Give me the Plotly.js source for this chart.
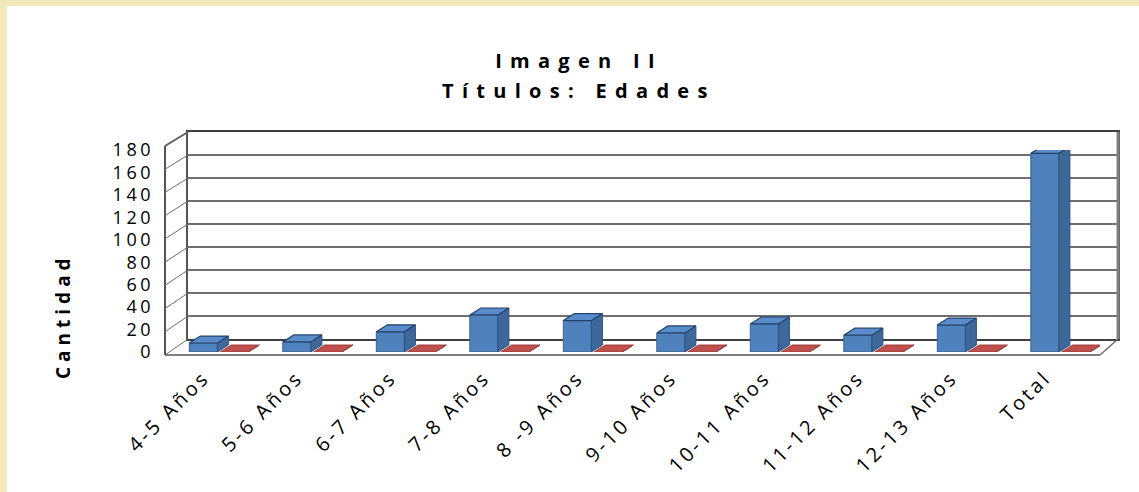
<!DOCTYPE html>
<html><head><meta charset="utf-8">
<script src="https://cdn.plot.ly/plotly-3.0.1.min.js"></script>
<style>
html,body{margin:0;padding:0;background:#fff;}
#chart{width:1139px;height:492px;}
.gtitle {letter-spacing:8.3px;}
.x3tick text{letter-spacing:3px;}
.y2tick text{letter-spacing:3.5px;}
</style></head><body><div id="chart"></div><script>
// ---- data ----
const categories = ['4-5 Años','5-6 Años','6-7 Años','7-8 Años','8 -9 Años','9-10 Años','10-11 Años','11-12 Años','12-13 Años','Total'];
const blueValues = [8, 9, 18, 33, 28, 17, 25, 15, 24, 177];
const redValues  = [0, 0, 0, 0, 0, 0, 0, 0, 0, 0];
const yTicks = [0, 20, 40, 60, 80, 100, 120, 140, 160, 180];
const titleLine1 = 'Imagen II';
const titleLine2 = 'Títulos: Edades';
const yTitle = 'Cantidad';

// ---- geometry / style ----
const W = 1139, H = 492;
const PX = x => x / W, PY = y => 1 - y / H;
const idx = categories.map((c, i) => i);
const BW = 0.3, BLUE_OFF = -0.24, RED_OFF = 0.09;
const DX = 0.118, DY = 6.2;

function faces(vals, off) {
  const sx = [], sy = [], tx = [], ty = [];
  vals.forEach((v, i) => {
    const x0 = i + off, x1 = x0 + BW;
    sx.push(x1, x1 + DX, x1 + DX, x1, x1, null); sy.push(0, DY, v + DY, v, 0, null);
    tx.push(x0, x0 + DX, x1 + DX, x1, x0, null); ty.push(v, v + DY, v + DY, v, v, null);
  });
  return {sx, sy, tx, ty};
}
const bf = faces(blueValues, BLUE_OFF);
const rf = faces(redValues, RED_OFF);

const common = {xaxis: 'x2', yaxis: 'y2', showlegend: false, hoverinfo: 'skip'};
const traces = [
  // back wall subplot (gridlines only)
  {type: 'scatter', mode: 'lines', x: [], y: [], xaxis: 'x', yaxis: 'y', showlegend: false, hoverinfo: 'skip'},
  // category label axis
  {type: 'scatter', mode: 'lines', x: [], y: [], xaxis: 'x3', yaxis: 'y2', showlegend: false, hoverinfo: 'skip'},
  Object.assign({type: 'bar', x: idx, y: blueValues, width: BW, offset: BLUE_OFF,
    marker: {color: '#4F81BD', line: {color: '#3A6290', width: 1}}}, common),
  Object.assign({type: 'scatter', mode: 'lines', x: bf.sx, y: bf.sy, fill: 'toself',
    fillcolor: '#3D6899', line: {color: '#2E5080', width: 1}}, common),
  Object.assign({type: 'scatter', mode: 'lines', x: bf.tx, y: bf.ty, fill: 'toself',
    fillcolor: '#5A8CCB', line: {color: '#24436B', width: 1.2}}, common),
  Object.assign({type: 'bar', x: idx, y: redValues, width: BW, offset: RED_OFF,
    marker: {color: '#C0504D', line: {width: 0}}}, common),
  Object.assign({type: 'scatter', mode: 'lines', x: rf.sx, y: rf.sy, fill: 'toself',
    fillcolor: '#8E3B39', line: {color: '#8E3B39', width: 1}}, common),
  Object.assign({type: 'scatter', mode: 'lines', x: rf.tx, y: rf.ty, fill: 'toself',
    fillcolor: '#C0504D', line: {color: '#9A3E3B', width: 1}}, common)
];

// wall / floor outline shapes
const shapes = [
  {type: 'rect', xref: 'paper', yref: 'paper', x0: 0, x1: PX(7), y0: 0, y1: 1, fillcolor: '#F2E9BD', line: {width: 0}, layer: 'below'},
  {type: 'rect', xref: 'paper', yref: 'paper', x0: 0, x1: 1, y0: PY(6), y1: 1, fillcolor: '#F2E9BD', line: {width: 0}, layer: 'below'},
  {type: 'line', xref: 'paper', yref: 'paper', x0: PX(165), y0: PY(146), x1: PX(165), y1: PY(355), line: {color: '#555', width: 2}},
  {type: 'line', xref: 'paper', yref: 'paper', x0: PX(165), y0: PY(146), x1: PX(188), y1: PY(132), line: {color: '#555', width: 2}},
  {type: 'line', xref: 'paper', yref: 'paper', x0: PX(165), y0: PY(355), x1: PX(1100), y1: PY(355), line: {color: '#7f7f7f', width: 2}},
  {type: 'line', xref: 'paper', yref: 'paper', x0: PX(1100), y0: PY(355), x1: PX(1118), y1: PY(339), line: {color: '#6d6d6d', width: 1.5}},
  {type: 'line', xref: 'paper', yref: 'paper', x0: PX(1118), y0: PY(132), x1: PX(1118), y1: PY(339), line: {color: '#808080', width: 3}}
];
yTicks.forEach(v => {
  shapes.push({type: 'line', xref: 'paper', yref: 'paper',
    x0: PX(165), y0: PY(355 - v / 180 * 209), x1: PX(188), y1: PY(339 - v / 180 * 207),
    line: {color: '#6d6d6d', width: 1}});
});

const layout = {
  width: W, height: H, margin: {l: 0, r: 0, t: 0, b: 0},
  paper_bgcolor: '#ffffff', plot_bgcolor: 'rgba(0,0,0,0)',
  showlegend: false, hovermode: false, barmode: 'overlay',
  font: {family: 'Open Sans, sans-serif', color: '#000'},
  title: {text: titleLine1, font: {size: 20, weight: 'bold', color: '#000'},
    x: PX(579), xanchor: 'center', xref: 'paper', y: PY(61), yanchor: 'middle', yref: 'paper'},
  xaxis: {domain: [PX(188), PX(1118)], range: [-0.5, 9.5], anchor: 'y', showgrid: false, zeroline: false,
    showticklabels: false, showline: true, mirror: true, linecolor: '#3f3f3f', linewidth: 2, ticks: ''},
  yaxis: {domain: [PY(339), PY(132)], range: [0, 180], anchor: 'x', tickvals: yTicks, showgrid: true,
    gridcolor: '#6f6f6f', gridwidth: 1.5, zeroline: false, showticklabels: false, showline: true,
    mirror: true, linecolor: '#555', linewidth: 2, ticks: ''},
  xaxis2: {domain: [PX(165), PX(1100)], range: [-0.5, 9.5], anchor: 'y2', showticklabels: false,
    showgrid: false, zeroline: false, showline: false, ticks: ''},
  xaxis3: {domain: [PX(157), PX(1092)], range: [-0.5, 9.5], anchor: 'y2', tickvals: idx, ticktext: categories,
    tickangle: -45, tickfont: {size: 20, color: '#000'}, showgrid: false, zeroline: false, showline: false,
    ticks: '', ticklabelstandoff: 9},
  yaxis2: {domain: [PY(352), PY(150)], range: [0, 180], anchor: 'x2', tickvals: yTicks,
    tickfont: {size: 18, color: '#000'}, showgrid: false, zeroline: false, showline: false, ticks: '',
    ticklabelstandoff: 10},
  annotations: [
    {text: '<span style="letter-spacing:8.3px">' + titleLine2 + '</span>', x: PX(579), y: PY(91),
      xref: 'paper', yref: 'paper', showarrow: false, font: {size: 20, weight: 'bold', color: '#000'},
      xanchor: 'center', yanchor: 'middle'},
    {text: '<span style="letter-spacing:5px">' + yTitle + '</span>', textangle: -90, x: PX(63), y: PY(316),
      xref: 'paper', yref: 'paper', showarrow: false, font: {size: 19, weight: 'bold', color: '#000'},
      xanchor: 'center', yanchor: 'middle'}
  ],
  shapes: shapes
};

Plotly.newPlot('chart', traces, layout, {displayModeBar: false, staticPlot: true});
</script></body></html>
